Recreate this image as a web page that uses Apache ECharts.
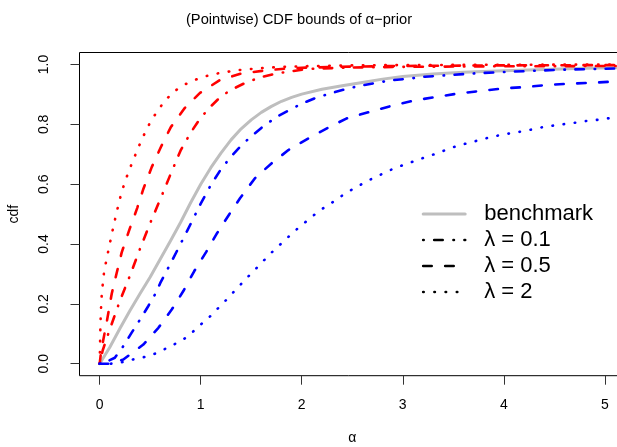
<!DOCTYPE html>
<html>
<head>
<meta charset="utf-8">
<script src="https://cdn.jsdelivr.net/npm/echarts@6/dist/echarts.min.js"></script>
<style>
html,body{margin:0;padding:0;background:#fff;}
#chart{width:617px;height:447px;}
</style>
</head>
<body>
<div id="chart"></div>
<script>
// ---- data ----
const xTicks = [0, 1, 2, 3, 4, 5];
const yTicks = [0, 0.2, 0.4, 0.6, 0.8, 1.0];

const benchX = [0,0.1,0.2,0.3,0.4,0.5,0.6,0.7,0.8,0.9,1.0,1.1,1.2,1.3,1.4,1.5,1.6,1.7,1.8,1.9,2.0,2.2,2.4,2.6,2.8,3.0,3.3,3.6,4.0,4.4,4.8,5.2];
const benchY = [0,0.055,0.118,0.178,0.235,0.29,0.35,0.41,0.472,0.538,0.6,0.655,0.704,0.748,0.785,0.815,0.84,0.86,0.877,0.89,0.901,0.917,0.929,0.94,0.951,0.96,0.968,0.974,0.979,0.983,0.987,0.99];

// upper bounds (red)
const up2X = [0,0.003,0.006,0.01,0.015,0.02,0.03,0.042,0.064,0.087,0.11,0.133,0.158,0.184,0.212,0.245,0.283,0.323,0.366,0.41,0.458,0.508,0.571,0.637,0.713,0.802,0.907,1.01,1.12,1.23,1.4,1.6,1.8,2.0,2.5,3.0,4.0,5.2];
const up2Y = [0,0.06,0.11,0.16,0.2,0.23,0.265,0.303,0.343,0.38,0.417,0.454,0.492,0.529,0.567,0.603,0.639,0.673,0.709,0.744,0.779,0.812,0.844,0.875,0.903,0.926,0.944,0.957,0.967,0.974,0.982,0.988,0.992,0.994,0.997,0.998,0.999,1.0];

const up05X = [0,0.01,0.03,0.07,0.119,0.168,0.218,0.294,0.371,0.432,0.515,0.607,0.703,0.838,0.993,1.19,1.406,1.62,1.8,2.0,2.5,3.0,4.0,5.2];
const up05Y = [0,0.03,0.07,0.14,0.234,0.303,0.372,0.448,0.52,0.584,0.657,0.725,0.79,0.853,0.905,0.948,0.97,0.979,0.985,0.989,0.993,0.995,0.997,0.998];

const up01X = [0,0.03,0.085,0.1,0.2,0.3,0.4,0.5,0.6,0.7,0.8,0.9,1.0,1.1,1.2,1.3,1.45,1.6,1.75,2.05,2.5,3.0,4.0,5.2];
const up01Y = [0,0.045,0.1,0.115,0.21,0.295,0.385,0.47,0.55,0.632,0.712,0.772,0.822,0.86,0.893,0.915,0.94,0.958,0.97,0.985,0.99,0.992,0.994,0.995];

// lower bounds (blue)
const lo01X = [0,0.05,0.1,0.15,0.234,0.315,0.4,0.48,0.557,0.6,0.7,0.8,0.9,1.0,1.1,1.2,1.3,1.4,1.5,1.6,1.75,1.9,2.0,2.15,2.3,2.46,2.61,2.76,2.91,3.07,3.22,3.39,3.7,4.0,4.31,4.62,4.9,5.2];
const lo01Y = [0,0,0.012,0.02,0.059,0.103,0.148,0.192,0.237,0.27,0.334,0.4,0.467,0.535,0.597,0.65,0.692,0.729,0.76,0.788,0.825,0.852,0.869,0.89,0.905,0.92,0.931,0.94,0.948,0.953,0.959,0.963,0.97,0.975,0.979,0.983,0.985,0.987];

const lo05X = [0,0.1,0.234,0.432,0.581,0.713,0.828,0.935,1.053,1.163,1.28,1.389,1.537,1.703,1.868,2.065,2.263,2.446,2.676,2.89,3.105,3.337,3.55,3.78,4.0,4.23,4.44,4.66,4.89,5.09,5.2];
const lo05Y = [0,0,0.014,0.064,0.12,0.181,0.243,0.309,0.373,0.437,0.498,0.553,0.62,0.67,0.714,0.753,0.789,0.82,0.842,0.862,0.879,0.892,0.903,0.912,0.92,0.925,0.932,0.936,0.939,0.943,0.945];

const lo2X = [0,0.11,0.218,0.327,0.45,0.55,0.657,0.756,0.854,0.937,1.02,1.109,1.184,1.264,1.34,1.416,1.495,1.577,1.653,1.736,1.818,1.9,1.983,2.072,2.158,2.254,2.346,2.44,2.54,2.637,2.742,2.841,2.947,3.056,3.161,3.27,3.376,3.485,3.594,3.7,3.808,3.92,4.03,4.14,4.254,4.36,4.475,4.584,4.7,4.815,4.927,5.036,5.2];
const lo2Y = [0,0,0.005,0.014,0.023,0.034,0.051,0.068,0.087,0.111,0.137,0.163,0.19,0.217,0.245,0.272,0.3,0.328,0.355,0.383,0.408,0.434,0.459,0.483,0.507,0.529,0.548,0.572,0.589,0.609,0.625,0.642,0.657,0.67,0.683,0.695,0.708,0.722,0.733,0.742,0.752,0.761,0.768,0.774,0.781,0.789,0.795,0.8,0.805,0.811,0.815,0.82,0.826];

const names = ['benchmark', 'λ = 0.1', 'λ = 0.5', 'λ = 2'];

// ---- styles ----
const FONT = 'Liberation Sans, Arial, Helvetica, sans-serif';
const LW = 2.6;
const DOTTED = [0.5, 10.7];
const DASHED = [8.5, 13.5];
const DOTDASH = [0.5, 10.5, 8.5, 10.75];
const HIDDEN_SYMBOL = { color: 'rgba(0,0,0,0)', opacity: 0, borderWidth: 0 };

function zip(xs, ys) { return xs.map((x, i) => [x, ys[i]]); }
function lineSeries(name, xs, ys, color, type, width) {
  return {
    name: name, type: 'line', data: zip(xs, ys), symbol: 'none',
    smooth: false,
    lineStyle: { color: color, width: width, type: type, cap: 'round', join: 'round' },
    itemStyle: { color: color },
    emphasis: { disabled: true }, silent: true
  };
}

const chart = echarts.init(document.getElementById('chart'), null, { renderer: 'canvas' });
chart.setOption({
  animation: false,
  backgroundColor: '#ffffff',
  title: {
    text: '(Pointwise) CDF bounds of α−prior',
    left: 294, top: 7, textAlign: 'center',
    textStyle: { fontFamily: FONT, fontSize: 14.7, fontWeight: 'normal', color: '#000' }
  },
  grid: {
    left: 79.5, top: 52.5, right: -8, bottom: 71.3,
    outerBoundsMode: 'none', containLabel: false,
    show: true, borderColor: '#000', borderWidth: 1, backgroundColor: 'transparent'
  },
  legend: {
    orient: 'vertical', left: 421.7, top: 202, padding: 0,
    itemWidth: 42, itemHeight: 14, itemGap: 2,
    selectedMode: false,
    textStyle: { fontFamily: FONT, fontSize: 22, color: '#000', lineHeight: 24, padding: [0, 0, 0, 14] },
    data: [
      { name: names[0], itemStyle: HIDDEN_SYMBOL, lineStyle: { color: '#BEBEBE', width: 3, type: 'solid' } },
      { name: names[1], itemStyle: HIDDEN_SYMBOL, lineStyle: { color: '#000', width: LW, type: DOTDASH, cap: 'round' } },
      { name: names[2], itemStyle: HIDDEN_SYMBOL, lineStyle: { color: '#000', width: LW, type: DASHED, cap: 'round' } },
      { name: names[3], itemStyle: HIDDEN_SYMBOL, lineStyle: { color: '#000', width: LW, type: DOTTED, cap: 'round' } }
    ]
  },
  xAxis: {
    type: 'value', min: -0.2, max: 5.2,
    name: 'α', nameLocation: 'middle', nameGap: 55,
    nameTextStyle: { fontFamily: FONT, fontSize: 14, color: '#000' },
    axisLine: { show: false, onZero: false },
    splitLine: { show: false },
    axisTick: { show: true, inside: false, length: 9, customValues: xTicks, lineStyle: { color: '#333', width: 1 } },
    axisLabel: { show: true, customValues: xTicks, margin: 22, fontFamily: FONT, fontSize: 14, color: '#000',
      formatter: v => String(v) }
  },
  yAxis: {
    type: 'value', min: -0.04, max: 1.04,
    name: 'cdf', nameLocation: 'middle', nameGap: 58, nameRotate: 90,
    nameTextStyle: { fontFamily: FONT, fontSize: 14, color: '#000' },
    axisLine: { show: false, onZero: false },
    splitLine: { show: false },
    axisTick: { show: true, inside: false, length: 9, customValues: yTicks, lineStyle: { color: '#333', width: 1 } },
    axisLabel: { show: true, customValues: yTicks, rotate: 90, margin: 28, fontFamily: FONT, fontSize: 14, color: '#000',
      formatter: v => v.toFixed(1) }
  },
  series: [
    lineSeries(names[0], benchX, benchY, '#BEBEBE', 'solid', 3),
    lineSeries(names[1], up01X, up01Y, '#FF0000', DOTDASH, LW),
    lineSeries(names[2], up05X, up05Y, '#FF0000', DASHED, LW),
    lineSeries(names[3], up2X, up2Y, '#FF0000', DOTTED, LW),
    lineSeries(names[1], lo01X, lo01Y, '#0000FF', DOTDASH, LW),
    lineSeries(names[2], lo05X, lo05Y, '#0000FF', DASHED, LW),
    lineSeries(names[3], lo2X, lo2Y, '#0000FF', DOTTED, LW)
  ]
});
</script>
</body>
</html>
